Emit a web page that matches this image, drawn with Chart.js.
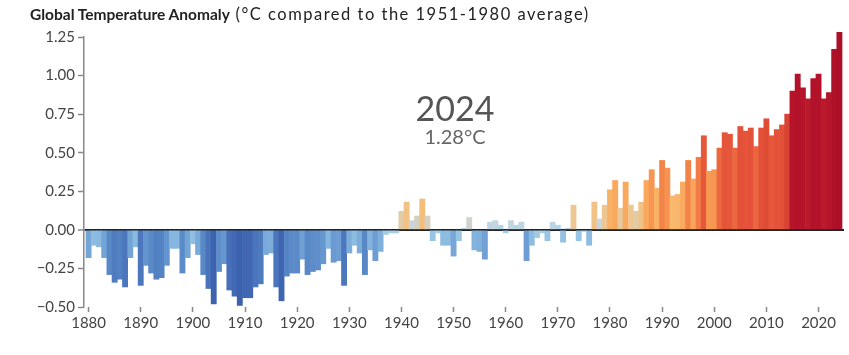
<!DOCTYPE html>
<html>
<head>
<meta charset="utf-8">
<script src="https://cdn.jsdelivr.net/npm/chart.js@4.4.1/dist/chart.umd.min.js"></script>
<style>
html,body{margin:0;padding:0;background:#fff;}
#wrap{position:relative;width:849px;height:355px;overflow:hidden;}
#title{position:absolute;left:30px;top:4px;font-family:Lato,sans-serif;color:#222;white-space:nowrap;}
#title b{font-weight:700;font-size:15.5px;}
#title span{font-weight:400;font-size:16.5px;letter-spacing:1.5px;}
canvas{display:block;}
</style>
</head>
<body>
<div id="wrap">
<canvas id="c" width="849" height="355"></canvas>
<div id="title"><b>Global Temperature Anomaly</b><span> (°C compared to the 1951-1980 average)</span></div>
</div>
<script>
// ---- Data ----
const years = [
1880,1881,1882,1883,1884,1885,1886,1887,1888,1889,
1890,1891,1892,1893,1894,1895,1896,1897,1898,1899,
1900,1901,1902,1903,1904,1905,1906,1907,1908,1909,
1910,1911,1912,1913,1914,1915,1916,1917,1918,1919,
1920,1921,1922,1923,1924,1925,1926,1927,1928,1929,
1930,1931,1932,1933,1934,1935,1936,1937,1938,1939,
1940,1941,1942,1943,1944,1945,1946,1947,1948,1949,
1950,1951,1952,1953,1954,1955,1956,1957,1958,1959,
1960,1961,1962,1963,1964,1965,1966,1967,1968,1969,
1970,1971,1972,1973,1974,1975,1976,1977,1978,1979,
1980,1981,1982,1983,1984,1985,1986,1987,1988,1989,
1990,1991,1992,1993,1994,1995,1996,1997,1998,1999,
2000,2001,2002,2003,2004,2005,2006,2007,2008,2009,
2010,2011,2012,2013,2014,2015,2016,2017,2018,2019,
2020,2021,2022,2023,2024
];
const anomalies = [
-0.18,-0.10,-0.11,-0.18,-0.29,-0.34,-0.32,-0.37,-0.18,-0.11,
-0.36,-0.23,-0.28,-0.32,-0.31,-0.23,-0.12,-0.12,-0.28,-0.18,
-0.09,-0.16,-0.29,-0.38,-0.48,-0.27,-0.22,-0.39,-0.43,-0.49,
-0.44,-0.44,-0.37,-0.35,-0.16,-0.15,-0.37,-0.46,-0.30,-0.28,
-0.28,-0.19,-0.29,-0.27,-0.26,-0.22,-0.12,-0.21,-0.20,-0.36,
-0.15,-0.10,-0.15,-0.29,-0.13,-0.20,-0.14,-0.03,-0.02,-0.02,
0.12,0.18,0.06,0.09,0.20,0.09,-0.07,-0.02,-0.10,-0.10,
-0.17,-0.07,0.01,0.08,-0.13,-0.14,-0.19,0.05,0.06,0.03,
-0.02,0.06,0.03,0.05,-0.20,-0.10,-0.05,-0.02,-0.07,0.05,
0.03,-0.08,0.01,0.16,-0.07,-0.01,-0.10,0.18,0.07,0.16,
0.26,0.32,0.14,0.31,0.16,0.12,0.18,0.32,0.39,0.27,
0.45,0.40,0.22,0.23,0.31,0.45,0.33,0.47,0.61,0.38,
0.39,0.53,0.63,0.62,0.53,0.67,0.64,0.66,0.54,0.66,
0.72,0.61,0.65,0.68,0.75,0.90,1.01,0.92,0.85,0.98,
1.01,0.85,0.89,1.17,1.28
];
const xTickYears = [1880,1890,1900,1910,1920,1930,1940,1950,1960,1970,1980,1990,2000,2010,2020];
const yTickValues = [-0.50,-0.25,0.00,0.25,0.50,0.75,1.00,1.25];

// ---- Colour scale (value -> colour) ----
const colorStops = [
  [-0.50,'#3b61ad'],[-0.42,'#4369b5'],[-0.32,'#5281c2'],[-0.22,'#6797cf'],
  [-0.14,'#7fb0dc'],[-0.06,'#9bc8e6'],[0.03,'#b3d6e8'],[0.07,'#c9d6dc'],
  [0.10,'#dbcfb2'],[0.16,'#edc692'],[0.22,'#f8b96e'],[0.32,'#f9a85d'],
  [0.42,'#f58e4d'],[0.52,'#ec6a40'],[0.62,'#e6563a'],[0.72,'#df4c35'],
  [0.80,'#cc3530'],[0.86,'#b6152b'],[1.30,'#ac0f28']
];
function hexToRgb(h){return [parseInt(h.slice(1,3),16),parseInt(h.slice(3,5),16),parseInt(h.slice(5,7),16)];}
function colorFor(v){
  if (v <= colorStops[0][0]) return colorStops[0][1];
  for (let i=1;i<colorStops.length;i++){
    const [v1,c1]=colorStops[i];
    if (v <= v1){
      const [v0,c0]=colorStops[i-1];
      const t=(v-v0)/(v1-v0);
      const a=hexToRgb(c0), b=hexToRgb(c1);
      const m=a.map((x,k)=>Math.round(x+(b[k]-x)*t));
      return `rgb(${m[0]},${m[1]},${m[2]})`;
    }
  }
  return colorStops[colorStops.length-1][1];
}
function fmtY(v){
  const s=Math.abs(v).toFixed(2);
  return v < -1e-9 ? '\u2212'+s : s;
}

const lastIdx = years.length-1;
const highlightPlugin = {
  id:'highlight',
  afterDraw(chart){
    const ctx=chart.ctx;
    ctx.save();
    ctx.textAlign='center';
    ctx.textBaseline='alphabetic';
    ctx.fillStyle='#555';
    ctx.font='34px Lato';
    ctx.fillText(String(years[lastIdx]),455,121);
    ctx.fillStyle='#666';
    ctx.font='20px Lato';
    ctx.fillText(anomalies[lastIdx].toFixed(2)+'°C',455,143.5);
    ctx.restore();
  }
};

const tickFont={family:'Lato',size:15};
new Chart(document.getElementById('c').getContext('2d'),{
  type:'bar',
  data:{
    datasets:[{
      data: years.map((y,i)=>({x:y,y:anomalies[i]})),
      backgroundColor: anomalies.map(colorFor),
      borderWidth:0,
      barPercentage:1,
      categoryPercentage:1,
      clip:false
    }]
  },
  options:{
    responsive:false,
    animation:false,
    events:[],
    layout:{padding:{top:37,right:5,left:0,bottom:0}},
    plugins:{legend:{display:false},tooltip:{enabled:false},title:{display:false}},
    scales:{
      x:{
        type:'linear',
        offset:false,
        min:1879.12,max:2024.88,
        afterBuildTicks:s=>{s.ticks=xTickYears.map(v=>({value:v}));},
        afterFit:s=>{s.height=48;},
        ticks:{callback:v=>String(v),font:tickFont,color:'#444',padding:2,maxRotation:0,autoSkip:false},
        grid:{offset:false,drawOnChartArea:false,drawTicks:true,tickLength:5,color:'#888',tickWidth:1.5},
        border:{display:false}
      },
      y:{
        min:-0.5,max:1.25,
        z:1,
        afterBuildTicks:s=>{s.ticks=yTickValues.map(v=>({value:v}));},
        afterFit:s=>{s.width=84;},
        ticks:{callback:v=>fmtY(v),font:tickFont,color:'#444',padding:3},
        grid:{
          drawOnChartArea:true,drawTicks:true,tickLength:6,
          color:c=>(c.tick && Math.abs(c.tick.value)<1e-9)?'#222':'rgba(0,0,0,0)',
          lineWidth:c=>(c.tick && Math.abs(c.tick.value)<1e-9)?2:1,
          tickColor:'#888',tickWidth:1.5
        },
        border:{display:true,color:'#888',width:1.5}
      }
    }
  },
  plugins:[highlightPlugin]
});
</script>
</body>
</html>
